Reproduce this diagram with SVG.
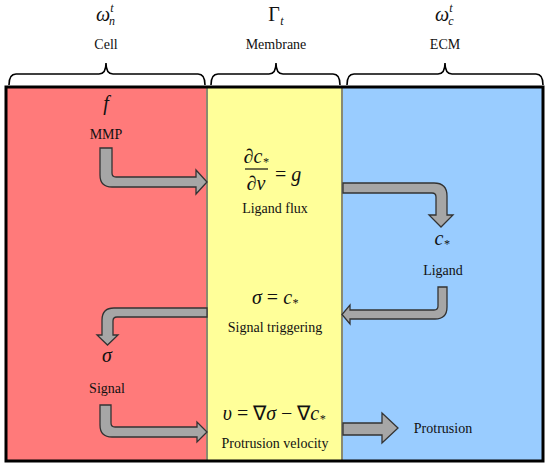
<svg xmlns="http://www.w3.org/2000/svg" width="550" height="470" viewBox="0 0 550 470">
<defs>
<path id="brace-cell" d="M9,85 Q9,74 16,74 L99,74 Q106,74 106,63 Q106,74 113,74 L198,74 Q205,74 205,85"/>
</defs>
<rect width="550" height="470" fill="#fff"/>
<g id="regions">
<rect x="6" y="87" width="201" height="374" fill="#ff7a7a"/>
<rect x="207" y="87" width="135" height="374" fill="#ffff99"/>
<rect x="342" y="87" width="201" height="374" fill="#99ccff"/>
<line x1="207" y1="87" x2="207" y2="461" stroke="#8a8a70" stroke-width="2"/>
<line x1="342" y1="87" x2="342" y2="461" stroke="#8a8a70" stroke-width="2"/>
<rect x="6" y="87" width="537" height="374" fill="none" stroke="#000" stroke-width="3"/>
</g>
<g id="braces" fill="none" stroke="#000" stroke-width="1.6">
<use href="#brace-cell"/>
<path d="M211,85 Q211,74 218,74 L269,74 Q276,74 276,63 Q276,74 283,74 L333,74 Q340,74 340,85"/>
<path d="M347,85 Q347,74 354,74 L438,74 Q445,74 445,63 Q445,74 452,74 L536,74 Q543,74 543,85"/>
</g>
<g id="labels" font-family="Liberation Serif" fill="#111" text-anchor="middle">
<g id="header-cell">
<text x="103" y="21" font-size="20" font-style="italic">ω</text>
<text x="112" y="25" font-size="12" font-style="italic">n</text>
<text x="112" y="12" font-size="12" font-style="italic">t</text>
<text x="106" y="49" font-size="14">Cell</text>
</g>
<g id="header-membrane">
<text x="274" y="21" font-size="20">Γ</text>
<text x="282" y="25" font-size="12" font-style="italic">t</text>
<text x="276" y="49" font-size="14">Membrane</text>
</g>
<g id="header-ecm">
<text x="442" y="21" font-size="20" font-style="italic">ω</text>
<text x="451" y="25" font-size="12" font-style="italic">c</text>
<text x="451" y="12" font-size="12" font-style="italic">t</text>
<text x="445" y="49" font-size="14">ECM</text>
</g>
<g id="mmp">
<text x="106" y="110" font-size="20" font-style="italic">f</text>
<text x="106" y="139" font-size="14">MMP</text>
</g>
<g id="ligand-flux">
<text x="256" y="163" font-size="20" font-style="italic"><tspan font-style="normal">∂</tspan>c<tspan font-size="12" dy="3">*</tspan></text>
<line x1="245" y1="169" x2="268" y2="169" stroke="#111" stroke-width="1.2"/>
<text x="256" y="190" font-size="20" font-style="italic"><tspan font-style="normal">∂</tspan>ν</text>
<text x="275" y="181" font-size="20" font-style="italic" text-anchor="start"><tspan font-style="normal">=</tspan> g</text>
<text x="275" y="213" font-size="14">Ligand flux</text>
</g>
<g id="ligand">
<text x="442" y="245" font-size="20" font-style="italic">c<tspan font-size="12" dy="3">*</tspan></text>
<text x="443" y="275" font-size="14">Ligand</text>
</g>
<g id="signal-triggering">
<text x="275" y="304" font-size="20" font-style="italic">σ <tspan font-style="normal">=</tspan> c<tspan font-size="12" dy="3">*</tspan></text>
<text x="275" y="332" font-size="14">Signal triggering</text>
</g>
<g id="signal">
<text x="107" y="362" font-size="20" font-style="italic">σ</text>
<text x="107" y="393" font-size="14">Signal</text>
</g>
<g id="protrusion-velocity">
<text x="274" y="420" font-size="20" font-style="italic">υ <tspan font-style="normal">= ∇</tspan>σ <tspan font-style="normal">− ∇</tspan>c<tspan font-size="12" dy="3">*</tspan></text>
<text x="275" y="448" font-size="14">Protrusion velocity</text>
</g>
<g id="protrusion">
<text x="443" y="433" font-size="14">Protrusion</text>
</g>
</g>
<g id="connectors" fill="#a6a6a6" stroke="#333" stroke-width="1.3">
<path d="M100,148 L112,148 L112,173 Q112,177 116,177 L196,177 L196,170 L207,182 L196,194 L196,187 L112,187 Q100,187 100,175 Z"/>
<path d="M343,183 L434,183 Q447,183 447,196 L447,215 L453,215 L441,227 L429,215 L436,215 L436,197 Q436,193 432,193 L343,193 Z"/>
<path d="M438,287 L447,287 L447,307 Q447,319 435,319 L350,319 L350,324 L342,314.5 L350,305 L350,310 L434,310 Q438,310 438,306 Z"/>
<path d="M207,308 L114,308 Q102,308 102,320 L102,335 L97,335 L107.5,345 L118,335 L113,335 L113,321 Q113,317 117,317 L207,317 Z"/>
<path d="M100,405 L111,405 L111,423 Q111,427 115,427 L197,427 L197,422 L207,432 L197,442 L197,437 L112,437 Q100,437 100,425 Z"/>
<path d="M343,423 L382,423 L382,413 L398,428 L382,443 L382,435 L343,435 Z"/>
</g>
</svg>
